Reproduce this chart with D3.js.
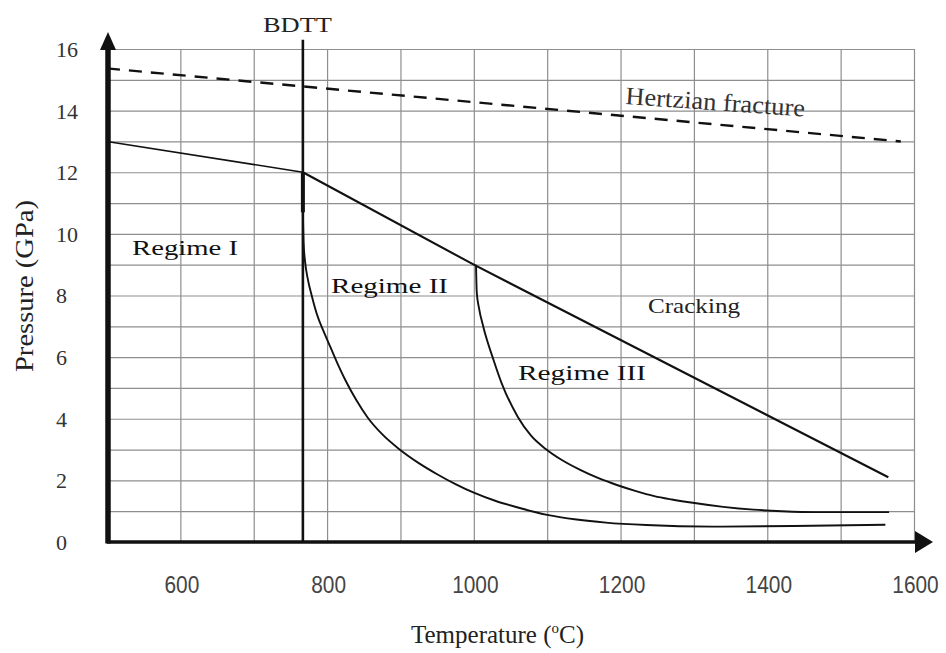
<!DOCTYPE html>
<html>
<head>
<meta charset="utf-8">
<script src="https://cdn.jsdelivr.net/npm/d3@7/dist/d3.min.js"></script>
<style>
  html, body { margin: 0; padding: 0; background: #fff; }
  svg { display: block; }
</style>
</head>
<body>
<svg id="chart" width="946" height="653"></svg>
<script>
// Tick values and grid steps
const xTicks = [600, 800, 1000, 1200, 1400, 1600];
const yTicks = [0, 2, 4, 6, 8, 10, 12, 14, 16];
const xGrid = [500, 600, 700, 800, 900, 1000, 1100, 1200, 1300, 1400, 1500, 1600];
const yGrid = [0, 1, 2, 3, 4, 5, 6, 7, 8, 9, 10, 11, 12, 13, 14, 15, 16];

// Brittle-ductile transition temperature (°C)
const bdtt = 767;

// Boundary series: [temperature °C, pressure GPa]
const hertzian = [[500, 15.37], [1582, 13.0]];
const regimeIBoundary = [[500, 13.0], [767, 12.0]];
const crackingBoundary = [[767, 12.0], [1000, 9.0], [1565, 2.1]];
const regimeIICurve = [
  [767, 10.7], [768, 9.7], [770, 9.1], [774, 8.5], [779, 8.0], [786, 7.4],
  [795, 6.85], [805, 6.3], [815, 5.75], [825, 5.25], [840, 4.6], [855, 4.05],
  [875, 3.5], [898, 3.02], [925, 2.56], [950, 2.2], [975, 1.88], [1000, 1.6],
  [1030, 1.33], [1060, 1.12], [1100, 0.88], [1140, 0.73], [1180, 0.63],
  [1235, 0.55], [1325, 0.5], [1436, 0.52], [1561, 0.56]
];
const regimeIIICurve = [
  [1003, 9.0], [1004, 8.1], [1007, 7.6], [1013, 6.98], [1027, 5.9], [1038, 5.15],
  [1060, 4.06], [1078, 3.45], [1098, 3.02], [1120, 2.66], [1145, 2.34],
  [1170, 2.07], [1195, 1.85], [1220, 1.66], [1246, 1.49], [1270, 1.38],
  [1296, 1.28], [1340, 1.14], [1381, 1.05], [1420, 1.0], [1465, 0.97], [1566, 0.97]
];

const svg = d3.select("#chart");
const x = d3.scaleLinear().domain([500, 1600]).range([107, 914]);
const y = d3.scaleLinear().domain([0, 16]).range([542, 49]);

// Grid
const gridColor = "#8e8e8e";
const gx = svg.append("g")
  .attr("transform", `translate(0,${y(0)})`)
  .call(d3.axisBottom(x).tickValues(xGrid).tickSize(-(y(0) - y(16))).tickFormat(""));
gx.select(".domain").remove();
gx.selectAll("line").attr("stroke", gridColor).attr("stroke-width", 1.2);

const gy = svg.append("g")
  .attr("transform", `translate(${x(500)},0)`)
  .call(d3.axisLeft(y).tickValues(yGrid).tickSize(-(x(1600) - x(500))).tickFormat(""));
gy.select(".domain").remove();
gy.selectAll("line").attr("stroke", gridColor).attr("stroke-width", 1.2);

// Tick labels
const xl = svg.append("g")
  .attr("transform", `translate(1,${y(0)})`)
  .call(d3.axisBottom(x).tickValues(xTicks).tickSize(0).tickPadding(51).tickFormat(d3.format("d")));
xl.select(".domain").remove();
xl.selectAll("text")
  .attr("font-family", "'Liberation Sans', Arial, sans-serif")
  .attr("font-size", 23)
  .attr("fill", "#444")
  .attr("dy", 0)
  .attr("textLength", d => String(d).length * 11.6)
  .attr("lengthAdjust", "spacingAndGlyphs");

const yl = svg.append("g")
  .attr("transform", `translate(${x(500)},0)`)
  .call(d3.axisLeft(y).tickValues(yTicks).tickSize(0).tickFormat(d3.format("d")));
yl.select(".domain").remove();
yl.selectAll("text")
  .attr("x", 56 - x(500))
  .attr("dy", "0.34em")
  .attr("text-anchor", "start")
  .attr("font-family", "'Liberation Serif', 'Times New Roman', serif")
  .attr("font-size", 22)
  .attr("fill", "#333");

// Lines
const line = d3.line().x(d => x(d[0])).y(d => y(d[1]));
const smooth = d3.line().x(d => x(d[0])).y(d => y(d[1])).curve(d3.curveMonotoneX);

svg.append("path").attr("d", line(hertzian))
  .attr("fill", "none").attr("stroke", "#111").attr("stroke-width", 2.4)
  .attr("stroke-dasharray", "13 9");

svg.append("path").attr("d", line(regimeIBoundary))
  .attr("fill", "none").attr("stroke", "#111").attr("stroke-width", 1.5);

svg.append("path").attr("d", line(crackingBoundary))
  .attr("fill", "none").attr("stroke", "#111").attr("stroke-width", 2.1);

svg.append("path").attr("d", smooth(regimeIICurve))
  .attr("fill", "none").attr("stroke", "#111").attr("stroke-width", 1.9);

svg.append("path").attr("d", smooth(regimeIIICurve))
  .attr("fill", "none").attr("stroke", "#111").attr("stroke-width", 1.9);

// BDTT vertical marker
svg.append("line")
  .attr("x1", x(bdtt)).attr("x2", x(bdtt))
  .attr("y1", y(16.3)).attr("y2", y(0))
  .attr("stroke", "#111").attr("stroke-width", 2.6);
svg.append("line")
  .attr("x1", x(bdtt)).attr("x2", x(bdtt))
  .attr("y1", y(12)).attr("y2", y(10.7))
  .attr("stroke", "#111").attr("stroke-width", 4);

// Axes with arrowheads
svg.append("line")
  .attr("x1", x(500)).attr("x2", x(1600) + 4)
  .attr("y1", y(0)).attr("y2", y(0))
  .attr("stroke", "#111").attr("stroke-width", 3.5);
svg.append("path")
  .attr("d", `M${x(1600) + 1},${y(0) - 11} L${x(1600) + 19},${y(0)} L${x(1600) + 1},${y(0) + 11} Z`)
  .attr("fill", "#111");

svg.append("line")
  .attr("x1", x(500) + 1).attr("x2", x(500) + 1)
  .attr("y1", y(0) + 1.5).attr("y2", y(16) - 2)
  .attr("stroke", "#111").attr("stroke-width", 5.5);
svg.append("path")
  .attr("d", `M${x(500) - 7},${y(16) + 1} L${x(500) + 1},${y(16) - 17} L${x(500) + 9},${y(16) + 1} Z`)
  .attr("fill", "#111");

// Annotations
const serif = "'Liberation Serif', 'Times New Roman', serif";
function label(txt, px, py, size, len, opts = {}) {
  const t = svg.append("text")
    .attr("x", px).attr("y", py)
    .attr("font-family", serif)
    .attr("font-size", size)
    .attr("fill", opts.fill || "#111")
    .attr("textLength", len)
    .attr("lengthAdjust", "spacingAndGlyphs")
    .text(txt);
  if (opts.rotate) t.attr("transform", `rotate(${opts.rotate},${px},${py})`);
  return t;
}

label("BDTT", 263, 32, 22, 69, { fill: "#222" });
label("Hertzian fracture", 625, 104, 25, 180, { rotate: 4, fill: "#333" });
label("Regime I", 132, 255, 22, 106);
label("Regime II", 331, 293, 22, 117);
label("Regime III", 518, 380, 22, 128);
label("Cracking", 648, 313, 21, 92, { fill: "#222" });

// Axis titles
svg.append("text")
  .attr("transform", "translate(33,372) rotate(-90)")
  .attr("font-family", serif)
  .attr("font-size", 26)
  .attr("fill", "#222")
  .attr("textLength", 172)
  .attr("lengthAdjust", "spacingAndGlyphs")
  .text("Pressure (GPa)");

const tt = svg.append("text")
  .attr("x", 411).attr("y", 643)
  .attr("font-family", serif)
  .attr("font-size", 25)
  .attr("fill", "#222");
tt.append("tspan").text("Temperature (");
tt.append("tspan").attr("font-size", 15).attr("dy", -10).text("o");
tt.append("tspan").attr("dy", 10).text("C)");
</script>
</body>
</html>
